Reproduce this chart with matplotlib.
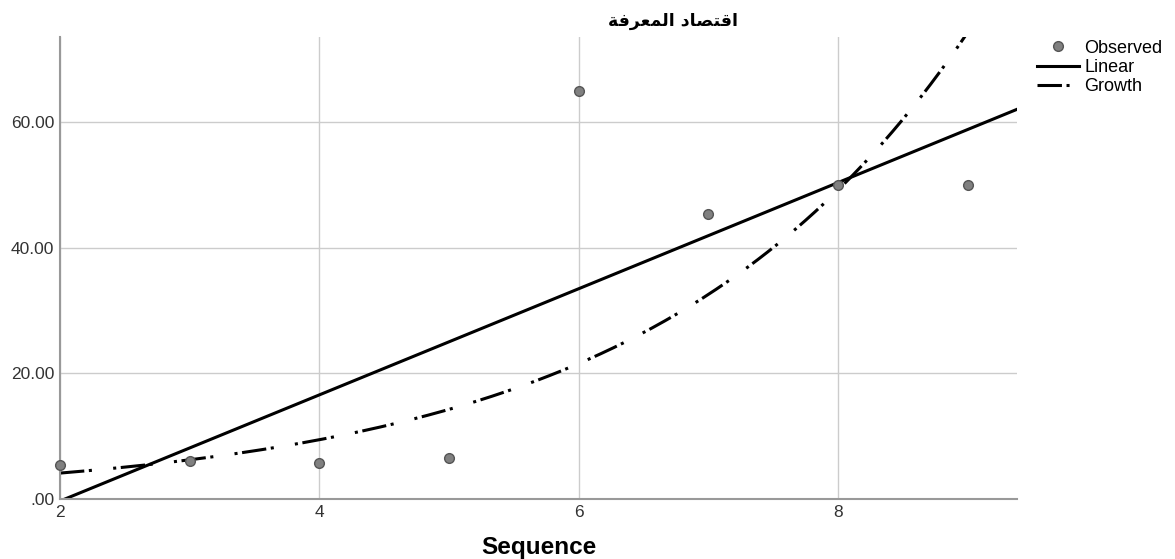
import numpy as np
import matplotlib
matplotlib.use('Agg')
import matplotlib.pyplot as plt

seq = [2, 3, 4, 5, 6, 7, 8, 9]
observed = [5.4, 6.1, 5.7, 6.5, 64.9, 45.3, 50.0, 50.0]
x_ticks = [2, 4, 6, 8]
y_ticks = [0, 20, 40, 60]
y_tick_labels = ['.00', '20.00', '40.00', '60.00']

# title "اقتصاد المعرفة", pre-shaped presentation forms in visual order
title = '\ufe94\ufed3\ufeae\ufecc\ufee4\ufedf\ufe8d \ufea9\ufe8e\ufebc\ufe98\ufed7\ufe8d'

plt.rcParams['font.family'] = ['Liberation Sans', 'DejaVu Sans']

x = np.array(seq, dtype=float)
y = np.array(observed)

# curve fits like SPSS: linear, and growth = exp(b0 + b1*x)
lin = np.polyfit(x, y, 1)
gro = np.polyfit(x, np.log(y), 1)

xs = np.linspace(2, 9.38, 300)
lin_y = np.polyval(lin, xs)
gro_y = np.exp(np.polyval(gro, xs))

fig = plt.figure(figsize=(11.75, 5.59), dpi=100)
ax = fig.add_axes([0.051, 0.107, 0.8145, 0.827])

ax.plot(x, y, 'o', color='#808080', markeredgecolor='#555555', markersize=7,
        label='Observed', zorder=3, clip_on=False)
ax.plot(xs, lin_y, '-', color='black', lw=2.2, label='Linear')
ax.plot(xs, gro_y, color='black', lw=2.2, linestyle=(0, (8, 1.5, 1, 7, 1, 1.5)),
        label='Growth')

ax.set_xlim(2, 9.38)
ax.set_ylim(0, 73.5)
ax.set_xticks(x_ticks)
ax.set_yticks(y_ticks)
ax.set_yticklabels(y_tick_labels)
ax.tick_params(length=0, labelsize=12.5, colors='#333333', pad=4)

ax.grid(True, color='#cccccc', lw=1)
ax.set_axisbelow(True)
for s in ['top', 'right']:
    ax.spines[s].set_visible(False)
for s in ['left', 'bottom']:
    ax.spines[s].set_color('#999999')
    ax.spines[s].set_linewidth(1.5)

ax.set_xlabel('Sequence', fontsize=17.5, fontweight='bold', labelpad=12)
fig.text(0.573, 0.962, title, ha='center', va='center', fontsize=12.5,
         fontweight='bold', family='DejaVu Sans')

leg = fig.legend(loc='upper left', bbox_to_anchor=(0.875, 0.945), frameon=False,
                 fontsize=13, handlelength=2.3, handletextpad=0.3, labelspacing=0.12,
                 borderpad=0)

fig.savefig('out.png', dpi=100)
